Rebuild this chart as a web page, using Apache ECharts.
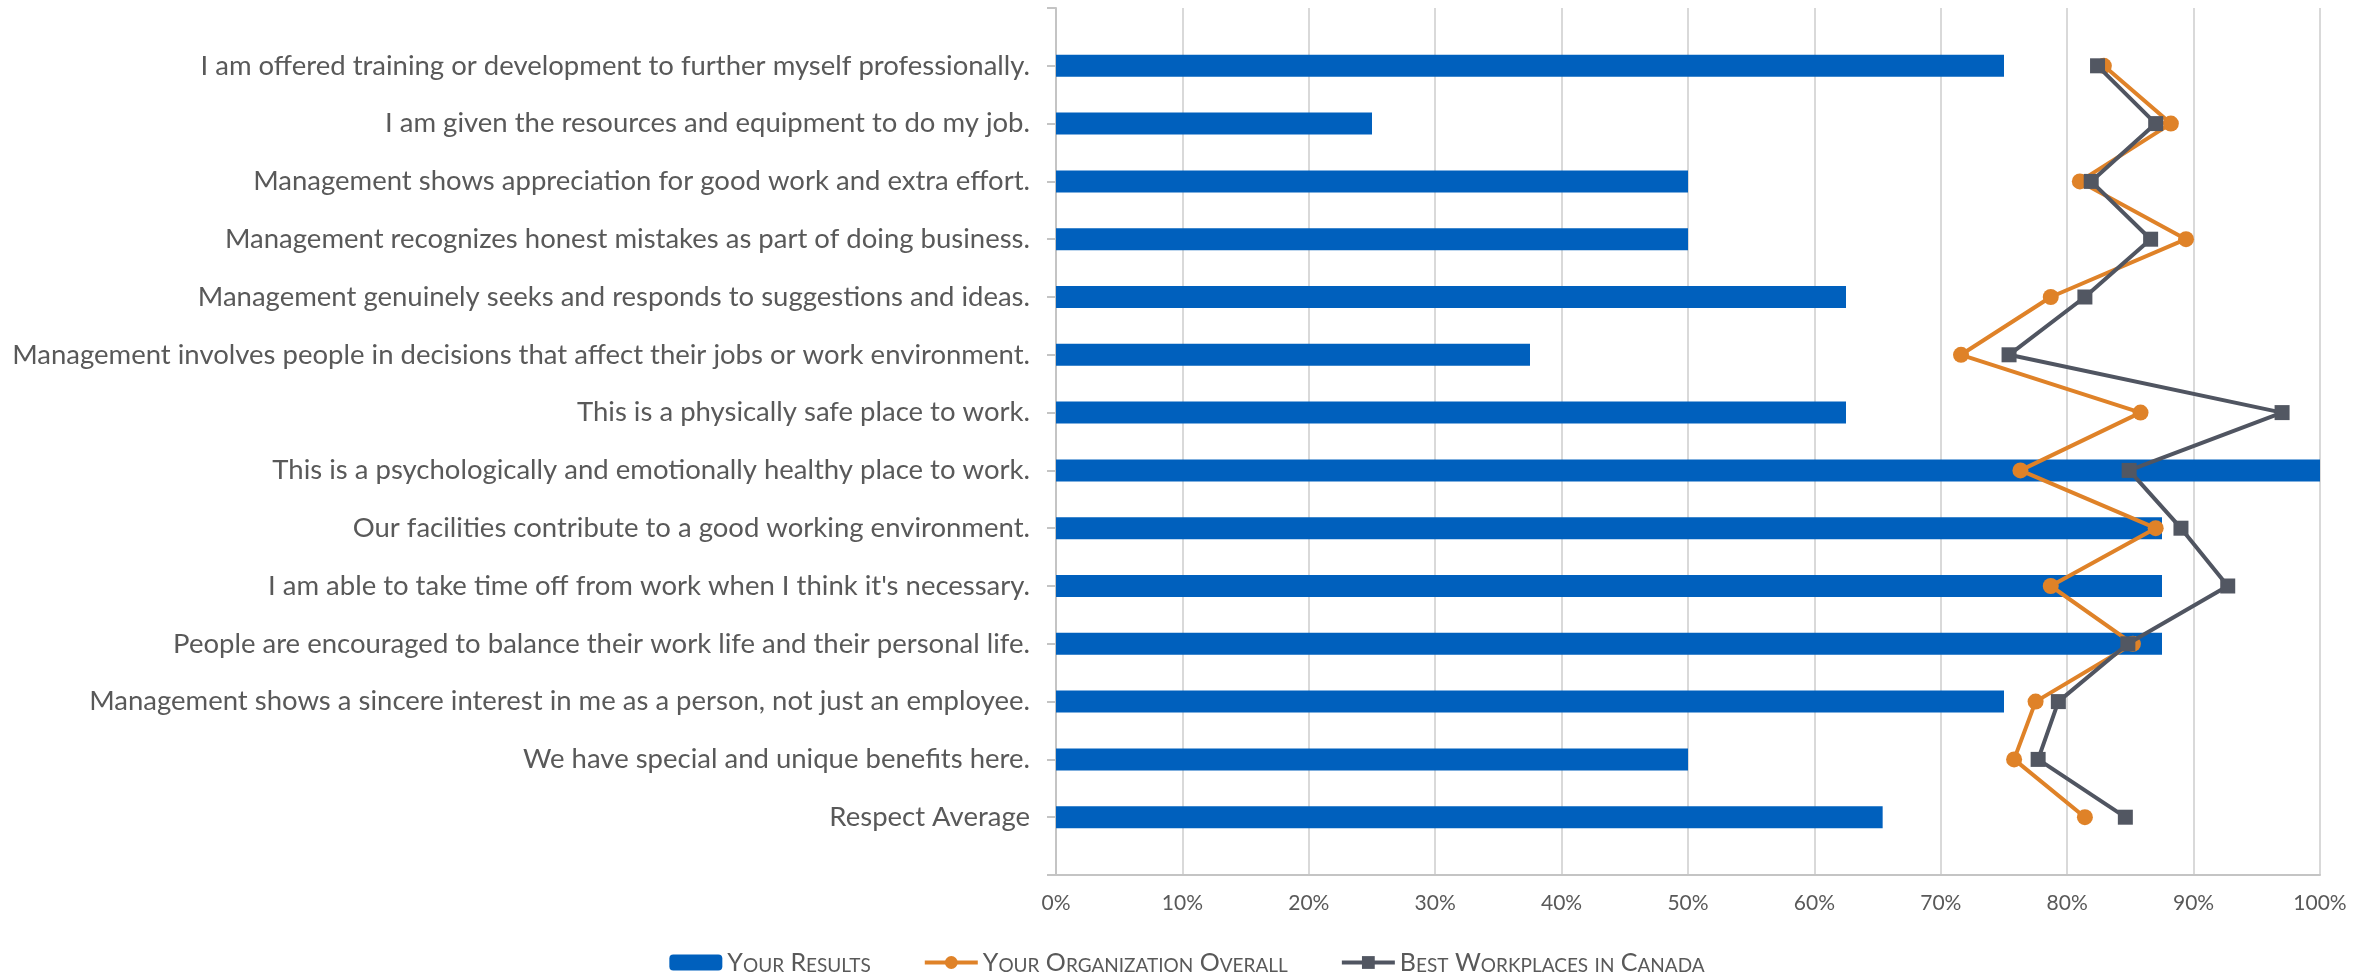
<!DOCTYPE html>
<html>
<head>
<meta charset="utf-8">
<style>
  html, body { margin: 0; padding: 0; background: #ffffff; }
  #chart { width: 2374px; height: 973px; }
</style>
<script src="https://cdn.jsdelivr.net/npm/echarts@6/dist/echarts.min.js"></script>
</head>
<body>
<div id="chart"></div>
<script>
// Survey statements, top to bottom
const categories = [
  "I am offered training or development to further myself professionally.",
  "I am given the resources and equipment to do my job.",
  "Management shows appreciation for good work and extra effort.",
  "Management recognizes honest mistakes as part of doing business.",
  "Management genuinely seeks and responds to suggestions and ideas.",
  "Management involves people in decisions that affect their jobs or work environment.",
  "This is a physically safe place to work.",
  "This is a psychologically and emotionally healthy place to work.",
  "Our facilities contribute to a good working environment.",
  "I am able to take time off from work when I think it's necessary.",
  "People are encouraged to balance their work life and their personal life.",
  "Management shows a sincere interest in me as a person, not just an employee.",
  "We have special and unique benefits here.",
  "Respect Average"
];

const seriesNames = ["Your Results", "Your Organization Overall", "Best Workplaces in Canada"];

const yourResults    = [0.75, 0.25, 0.50, 0.50, 0.625, 0.375, 0.625, 1.00, 0.875, 0.875, 0.875, 0.75, 0.50, 0.654];
const orgOverall     = [0.829, 0.882, 0.810, 0.894, 0.787, 0.716, 0.858, 0.763, 0.870, 0.787, 0.852, 0.775, 0.758, 0.814];
const bestWorkplaces = [0.824, 0.870, 0.819, 0.866, 0.814, 0.754, 0.970, 0.849, 0.890, 0.927, 0.848, 0.793, 0.777, 0.846];

// The category axis keeps an empty slot above and below the statements
const pad = arr => [null].concat(arr, [null]);
const axisCategories = [""].concat(categories, [""]);

const FONT = "Lato, 'Open Sans', sans-serif";
const TEXT = "#595959";

// Legend names in small capitals
function smallCaps(name) {
  let out = "";
  let run = "", lower = null;
  const flush = () => {
    if (run) out += lower ? "{s|" + run.toUpperCase() + "}" : "{b|" + run + "}";
    run = "";
  };
  for (const ch of name) {
    const isLower = ch !== ch.toUpperCase();
    if (lower !== null && isLower !== lower) flush();
    lower = isLower;
    run += ch;
  }
  flush();
  return out;
}

const chart = echarts.init(document.getElementById("chart"), null, { renderer: "canvas" });

chart.setOption({
  backgroundColor: "#ffffff",
  animation: false,
  textStyle: { fontFamily: FONT },
  grid: { left: 1056, right: 54, top: 8, bottom: 98, containLabel: false },
  legend: {
    top: 945,
    left: "center",
    itemWidth: 53,
    itemHeight: 16,
    itemGap: 52,
    data: seriesNames,
    formatter: smallCaps,
    lineStyle: { width: 4 },
    textStyle: {
      color: TEXT,
      rich: {
        b: { fontFamily: FONT, fontSize: 25, color: TEXT, verticalAlign: "bottom" },
        s: { fontFamily: FONT, fontSize: 19, color: TEXT, verticalAlign: "bottom" }
      }
    }
  },
  xAxis: {
    type: "value",
    min: 0,
    max: 1,
    interval: 0.1,
    axisLine: { show: true, lineStyle: { color: "#c4c4c4", width: 2 } },
    axisTick: { show: false },
    splitLine: { show: true, lineStyle: { color: "#d9d9d9", width: 2 } },
    axisLabel: {
      margin: 18,
      color: TEXT,
      fontFamily: FONT,
      fontSize: 21,
      formatter: v => Math.round(v * 100) + "%"
    }
  },
  yAxis: {
    type: "category",
    inverse: true,
    boundaryGap: false,
    data: axisCategories,
    axisLine: { show: true, lineStyle: { color: "#c4c4c4", width: 2 } },
    axisTick: { show: true, length: 9, lineStyle: { color: "#c4c4c4", width: 2 } },
    axisLabel: {
      margin: 26,
      color: TEXT,
      fontFamily: FONT,
      fontSize: 27.5,
      interval: 0
    },
    splitLine: { show: false }
  },
  series: [
    {
      name: seriesNames[0],
      type: "bar",
      data: pad(yourResults),
      barWidth: 22,
      itemStyle: { color: "#0060BD" },
      z: 2
    },
    {
      name: seriesNames[1],
      type: "line",
      data: pad(orgOverall),
      symbol: "circle",
      symbolSize: 16,
      itemStyle: { color: "#DF8228" },
      lineStyle: { color: "#DF8228", width: 4 },
      z: 3
    },
    {
      name: seriesNames[2],
      type: "line",
      data: pad(bestWorkplaces),
      symbol: "rect",
      symbolSize: 15,
      itemStyle: { color: "#525762" },
      lineStyle: { color: "#505561", width: 4 },
      z: 4
    }
  ]
});
</script>
</body>
</html>
